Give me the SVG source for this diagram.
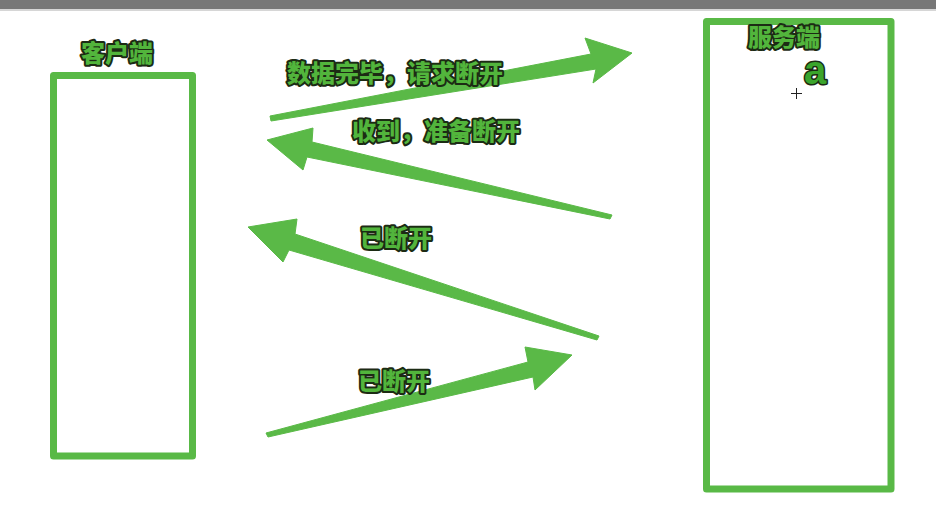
<svg xmlns="http://www.w3.org/2000/svg" width="936" height="526" viewBox="0 0 936 526">
<style>
.box{fill:#ffffff;stroke:#59b946;stroke-width:7;stroke-linejoin:round}
.arrow{fill:#5ab947;stroke:#5ab947;stroke-width:1;stroke-linejoin:round}
.lbl{font-family:"Noto Sans CJK SC","Noto Sans",sans-serif;font-weight:900;font-size:24px;fill:#52b53c;stroke:#1c2b14;stroke-width:4px;paint-order:stroke;stroke-linejoin:round}
.big{font-family:"Liberation Sans",Arial,sans-serif;font-weight:bold;font-size:40px;fill:#3aa52c;stroke:#1c2b14;stroke-width:3px;paint-order:stroke;stroke-linejoin:round}
</style>
<rect x="0" y="0" width="936" height="526" fill="#ffffff"/>
<rect x="0" y="0" width="936" height="9" fill="#777777"/>
<rect x="0" y="9" width="936" height="2" fill="#d6d6d6"/>
<g id="client">
<rect class="box" x="53.5" y="75.5" width="139" height="380.5"/>
<text class="lbl" x="117" y="62" text-anchor="middle">客户端</text>
</g>
<g id="server">
<rect class="box" x="706.5" y="21.5" width="184.5" height="467.5"/>
<text class="lbl" x="784" y="46" text-anchor="middle">服务端</text>
<text class="big" x="815" y="84" text-anchor="middle">a</text>
<path d="M791 93.5H802M796.5 88V99" stroke="#222" stroke-width="1" fill="none"/>
</g>
<g id="connectors">
<polygon class="arrow" points="632,53 585,38 591,54 270,116 271,121 596,69 593,83"/>
<polygon class="arrow" points="267,140 313,128 312,142 612,215 610,219 307,157 303,170"/>
<polygon class="arrow" points="248,227 297,219 295,234 599,336 597,340 289,250 283,262"/>
<polygon class="arrow" points="572,355 525,347 528,362 266,433 268,437 533,377 535,390"/>
</g>
<g id="labels">
<text class="lbl" x="395" y="82" text-anchor="middle">数据完毕，请求断开</text>
<text class="lbl" x="436" y="140" text-anchor="middle">收到，准备断开</text>
<text class="lbl" x="396" y="247" text-anchor="middle">已断开</text>
<text class="lbl" x="394" y="390" text-anchor="middle">已断开</text>
</g>
</svg>
